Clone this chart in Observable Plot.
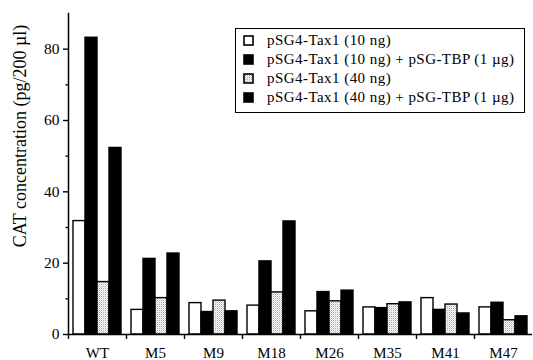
<!DOCTYPE html>
<html><head><meta charset="utf-8">
<script src="https://cdn.jsdelivr.net/npm/d3@7"></script>
<script src="https://cdn.jsdelivr.net/npm/@observablehq/plot@0.6"></script>
<style>
body{margin:0;background:#fff;}
#wrap{position:relative;width:533px;height:360px;font-family:"Liberation Serif","Times New Roman",serif;color:#000;}
#legend{position:absolute;left:235px;top:28px;width:290px;height:85px;border:1.5px solid #000;box-sizing:border-box;background:#fff;}
.row{position:absolute;left:7px;height:19px;display:flex;align-items:center;font-size:15px;letter-spacing:0.45px;white-space:nowrap;}
.row svg{margin-right:13px;flex:none;}
#defs{position:absolute;width:0;height:0;}
</style>
</head><body>
<svg id="defs" width="0" height="0"><defs>
<pattern id="stipple" patternUnits="userSpaceOnUse" width="2" height="2">
<rect width="2" height="2" fill="#fff"/>
<rect x="0" y="0" width="1" height="1" fill="#a8a8a8"/>
<rect x="1" y="1" width="1" height="1" fill="#d8d8d8"/>
</pattern></defs></svg>
<div id="wrap"></div>
<script>
const groups = ["WT", "M5", "M9", "M18", "M26", "M35", "M41", "M47"];
const seriesLabels = [
  "pSG4-Tax1 (10 ng)",
  "pSG4-Tax1 (10 ng) + pSG-TBP (1 µg)",
  "pSG4-Tax1 (40 ng)",
  "pSG4-Tax1 (40 ng) + pSG-TBP (1 µg)"
];
const tax10 = [31.8, 6.9, 8.8, 8.1, 6.5, 7.6, 10.2, 7.6];
const tax10tbp = [83.2, 21.2, 6.3, 20.5, 11.9, 7.4, 6.9, 8.9];
const tax40 = [14.7, 10.2, 9.5, 11.8, 9.3, 8.5, 8.4, 4.0];
const tax40tbp = [52.3, 22.7, 6.5, 31.7, 12.3, 9.0, 5.9, 5.1];
const majorTicks = [0, 20, 40, 60, 80];
const minorTicks = [10, 30, 50, 70];
const yTitle = "CAT concentration (pg/200 µl)";

const seriesValues = [tax10, tax10tbp, tax40, tax40tbp];
const fills = ["#fff", "#000", "url(#stipple)", "#000"];

const rows = [];
seriesValues.forEach((vals, s) => vals.forEach((v, i) => rows.push({group: groups[i], series: seriesLabels[s], s, value: v})));

const tickSymbol = {draw(ctx, size) { ctx.moveTo(0, 0); ctx.lineTo(0, 4.5); }};

const barMarks = seriesLabels.map((lab, s) =>
  Plot.barY(rows.filter(d => d.s === s), {
    fx: "group", x: "series", y: "value",
    fill: fills[s], stroke: "#000", strokeWidth: 1.4, inset: 0
  })
);

const chart = Plot.plot({
  width: 533, height: 360,
  marginLeft: 67, marginRight: 0, marginTop: 13, marginBottom: 26,
  style: {fontFamily: "'Liberation Serif', 'Times New Roman', serif", fontSize: "15px", color: "#000", background: "#fff"},
  fx: {domain: groups, padding: 0, label: null},
  x: {domain: seriesLabels, paddingInner: 0, paddingOuter: 0.35, axis: null},
  y: {domain: [0, 90], label: null},
  marks: [
    ...barMarks,
    Plot.ruleY([0], {stroke: "#000", strokeWidth: 1.5}),
    Plot.frame({anchor: "left", facetAnchor: "left", stroke: "#000", strokeWidth: 1.5}),
    Plot.axisY({ticks: majorTicks, tickSize: 5, tickPadding: 4, fontSize: 15.5, label: null, tickFormat: d => String(d), strokeWidth: 1.4}),
    Plot.axisY({ticks: minorTicks, tickSize: 2.5, tickFormat: () => "", label: null, strokeWidth: 1.4}),
    Plot.axisFx({anchor: "bottom", tickSize: 0, tickPadding: 13, fontSize: 15, label: null}),
    Plot.dot(groups, {fx: d => d, frameAnchor: "bottom-left", symbol: tickSymbol, fill: "none", stroke: "#000", strokeWidth: 1.4}),
    Plot.text([yTitle], {text: d => d, frameAnchor: "left", textAnchor: "middle", rotate: -90, dx: -48, dy: -38, fontSize: 18, facetAnchor: "left"})
  ]
});

const wrap = document.getElementById("wrap");
wrap.appendChild(chart);

const legend = document.createElement("div");
legend.id = "legend";
seriesLabels.forEach((lab, s) => {
  const row = document.createElement("div");
  row.className = "row";
  row.style.top = (2 + s * 19) + "px";
  row.innerHTML = `<svg width="11" height="11"><rect x="1" y="1" width="9" height="9" fill="${fills[s]}" stroke="#000" stroke-width="1.6"/></svg><span>${lab}</span>`;
  legend.appendChild(row);
});
wrap.appendChild(legend);
</script>
</body></html>
